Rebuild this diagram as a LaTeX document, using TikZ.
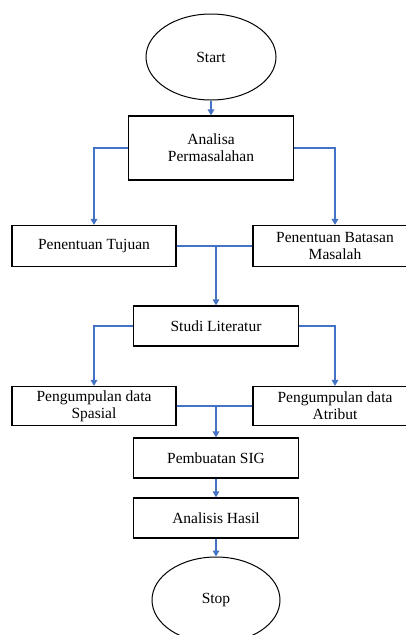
\documentclass[tikz,border=0pt]{standalone}
\usepackage{fontspec}
\setmainfont{Liberation Serif}
\usetikzlibrary{arrows.meta,shapes.geometric}
\definecolor{lineblue}{RGB}{68,114,196}
\begin{document}
\begin{tikzpicture}[x=1pt,y=-1pt,
  every node/.style={font=\fontsize{15.5}{17}\selectfont, align=center, inner sep=0pt},
  box/.style={draw=black, line width=1.2pt, minimum width=165, minimum height=40},
  term/.style={draw=black, line width=1pt, ellipse, minimum width=130, minimum height=86},
  arr/.style={draw=lineblue, line width=1.7pt, -{Triangle[length=6pt,width=6.5pt]}},
  ln/.style={draw=lineblue, line width=1.7pt}]
\useasboundingbox (0,0) rectangle (406,635);
\clip (0,0) rectangle (406,635);
\node[term] (start) at (211,57) {Start};
\node[box, minimum height=64] (ana) at (211,148) {Analisa\\Permasalahan};
\node[box, minimum width=164, minimum height=41] (tuj) at (94,246) {Penentuan Tujuan};
\node[box, minimum width=164, minimum height=41] (bat) at (335,246) {Penentuan Batasan\\Masalah};
\node[box] (stu) at (216,326) {Studi Literatur};
\node[box, minimum width=164, minimum height=39] (spa) at (94,406) {Pengumpulan data\\Spasial};
\node[box, minimum width=164, minimum height=39] (atr) at (335,406) {Pengumpulan data\\Atribut};
\node[box] (sig) at (216,458) {Pembuatan SIG};
\node[box] (has) at (216,518) {Analisis Hasil};
\node[term, minimum width=128] (stop) at (216,600) {Stop};
\coordinate (j1) at (216,246);
\coordinate (j2) at (216,406);
\draw[arr] (start.south) -- (ana.north);
\draw[arr] (ana.west) -| (tuj.north);
\draw[arr] (ana.east) -| (bat.north);
\draw[ln] (tuj.east) -- (bat.west);
\draw[arr] (j1) -- (stu.north);
\draw[arr] (stu.west) -| (spa.north);
\draw[arr] (stu.east) -| (atr.north);
\draw[ln] (spa.east) -- (atr.west);
\draw[arr] (j2) -- (sig.north);
\draw[arr] (sig.south) -- (has.north);
\draw[arr] (has.south) -- (stop.north);
\end{tikzpicture}
\end{document}
